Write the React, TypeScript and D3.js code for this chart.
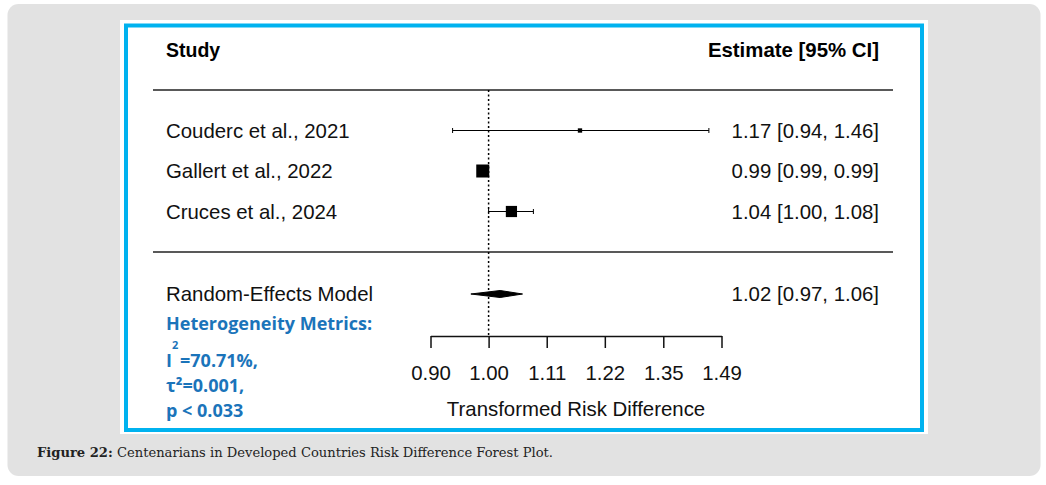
import { useEffect, useRef } from 'react';
import * as d3 from 'd3';

// study rows (top to bottom)
const studies = ['Couderc et al., 2021', 'Gallert et al., 2022', 'Cruces et al., 2024'];
const estimates = [1.17, 0.99, 1.04];
const ciLower = [0.94, 0.99, 1.0];
const ciUpper = [1.46, 0.99, 1.08];
const weights = [6, 54, 40]; // drives box size

// pooled model: estimate, lower, upper
const pooledLabel = 'Random-Effects Model';
const pooledStats = [1.02, 0.97, 1.06];

// axis (log scale, labels are rounded exp values)
const tickValues = [0.905, 1.0, 1.105, 1.221, 1.35, 1.492];
const tickLabels = ['0.90', '1.00', '1.11', '1.22', '1.35', '1.49'];

const hetLines = ['Heterogeneity Metrics:', '=70.71%,', 'τ²=0.001,', 'p < 0.033'];

const W = 1046;
const H = 485;
const SANS = '"Liberation Sans", Arial, sans-serif';
const BLUE = '#1b74ba';
const FS = 20.4;

function fmt(v: number) {
  return v.toFixed(2);
}

export default function App() {
  const svgRef = useRef<SVGSVGElement>(null);

  useEffect(() => {
    if (!svgRef.current) return;
    const svg = d3.select(svgRef.current);
    svg.selectAll('*').remove();

    // background panel
    svg.append('rect').attr('width', W).attr('height', H).attr('fill', '#fff');
    svg.append('rect')
      .attr('x', 7.5).attr('y', 4).attr('width', 1033).attr('height', 472)
      .attr('rx', 11).attr('fill', '#e2e2e2');
    svg.append('rect')
      .attr('x', 120).attr('y', 20).attr('width', 808).attr('height', 414)
      .attr('fill', '#fff');
    svg.append('rect')
      .attr('x', 126).attr('y', 25.5).attr('width', 796).attr('height', 404.5)
      .attr('fill', 'none').attr('stroke', '#00b2ef').attr('stroke-width', 4);

    const x = d3.scaleLog()
      .domain([tickValues[0], tickValues[tickValues.length - 1]])
      .range([430.5, 721.5]);
    // row index: k..1 for studies, 0 = separator, -1 = pooled
    const k = studies.length;
    const y = d3.scaleLinear().domain([1, k]).range([211.5, 130.5]);
    const size = d3.scaleSqrt().domain([0, d3.max(weights) as number]).range([0, 13]);
    const axisY = 336;
    const leftX = 166;
    const rightX = 879;

    const g = svg.append('g');

    // headers
    g.append('text')
      .attr('x', leftX).attr('y', y(k + 2) + 7)
      .attr('font-family', SANS).attr('font-weight', 'bold').attr('font-size', 19.5)
      .text('Study');
    g.append('text')
      .attr('x', rightX).attr('y', y(k + 2) + 7)
      .attr('text-anchor', 'end')
      .attr('font-family', SANS).attr('font-weight', 'bold').attr('font-size', FS)
      .text('Estimate [95% CI]');

    // separator lines
    [k + 1, 0].forEach((r) => {
      g.append('line')
        .attr('x1', 153).attr('x2', 893)
        .attr('y1', y(r)).attr('y2', y(r))
        .attr('stroke', '#222').attr('stroke-width', 1.5);
    });

    // reference line at 1
    g.append('line')
      .attr('x1', x(1)).attr('x2', x(1))
      .attr('y1', y(k + 1)).attr('y2', axisY)
      .attr('stroke', '#000').attr('stroke-width', 1.5)
      .attr('stroke-dasharray', '2,2.5');

    // study rows
    studies.forEach((name, i) => {
      const yy = y(k - i);
      g.append('text')
        .attr('x', leftX).attr('y', yy + 7)
        .attr('font-family', SANS).attr('font-size', FS).attr('fill', '#111')
        .text(name);
      g.append('text')
        .attr('x', rightX).attr('y', yy + 7)
        .attr('text-anchor', 'end')
        .attr('font-family', SANS).attr('font-size', FS).attr('fill', '#111')
        .text(`${fmt(estimates[i])} [${fmt(ciLower[i])}, ${fmt(ciUpper[i])}]`);

      if (ciUpper[i] > ciLower[i]) {
        g.append('line')
          .attr('x1', x(ciLower[i])).attr('x2', x(ciUpper[i]))
          .attr('y1', yy).attr('y2', yy)
          .attr('stroke', '#000').attr('stroke-width', 1);
        [ciLower[i], ciUpper[i]].forEach((v) => {
          g.append('line')
            .attr('x1', x(v)).attr('x2', x(v))
            .attr('y1', yy - 2.5).attr('y2', yy + 2.5)
            .attr('stroke', '#000').attr('stroke-width', 1);
        });
      }
      const s = size(weights[i]);
      g.append('rect')
        .attr('x', x(estimates[i]) - s / 2)
        .attr('y', yy - s / 2)
        .attr('width', s).attr('height', s)
        .attr('fill', '#000');
    });

    // pooled diamond
    const py = y(-1) + 1.5;
    g.append('text')
      .attr('x', leftX).attr('y', py + 7)
      .attr('font-family', SANS).attr('font-size', FS).attr('fill', '#111')
      .text(pooledLabel);
    g.append('text')
      .attr('x', rightX).attr('y', py + 7)
      .attr('text-anchor', 'end')
      .attr('font-family', SANS).attr('font-size', FS).attr('fill', '#111')
      .text(`${fmt(pooledStats[0])} [${fmt(pooledStats[1])}, ${fmt(pooledStats[2])}]`);
    const dh = 3.5;
    g.append('polygon')
      .attr('points', [
        [x(pooledStats[1]), py],
        [x(pooledStats[0]), py - dh],
        [x(pooledStats[2]), py],
        [x(pooledStats[0]), py + dh],
      ].map((p) => p.join(',')).join(' '))
      .attr('fill', '#000').attr('stroke', '#000').attr('stroke-width', 1);

    // axis
    const axis = g.append('g')
      .attr('transform', `translate(0,${axisY})`)
      .call(
        d3.axisBottom(x)
          .tickValues(tickValues)
          .tickFormat((_, i) => tickLabels[i])
          .tickSize(12)
          .tickSizeOuter(0)
          .tickPadding(18)
      );
    axis.select('.domain').attr('stroke', '#111').attr('stroke-width', 1.5);
    axis.selectAll('.tick line').attr('stroke', '#111').attr('stroke-width', 1.5);
    axis.selectAll('.tick text')
      .attr('font-family', SANS).attr('font-size', FS).attr('fill', '#111');

    g.append('text')
      .attr('x', (x.range()[0] + x.range()[1]) / 2).attr('y', 416)
      .attr('text-anchor', 'middle')
      .attr('font-family', SANS).attr('font-size', FS).attr('fill', '#111')
      .text('Transformed Risk Difference');

    // heterogeneity block
    const het = g.append('g')
      .attr('font-family', '"Open Sans", Lato, sans-serif')
      .attr('font-weight', 'bold').attr('font-size', 18).attr('fill', BLUE);
    het.append('text').attr('x', leftX).attr('y', 330).text(hetLines[0]);
    het.append('text').attr('x', leftX).attr('y', 367).text('I');
    het.append('text').attr('x', leftX + 6).attr('y', 349).attr('font-size', 11).text('2');
    het.append('text').attr('x', leftX + 14).attr('y', 367).text(hetLines[1]);
    het.append('text').attr('x', leftX).attr('y', 392).text(hetLines[2]);
    het.append('text').attr('x', leftX).attr('y', 417).text(hetLines[3]);

    // caption
    const cap = svg.append('text')
      .attr('x', 37).attr('y', 457)
      .attr('font-family', '"DejaVu Serif", serif').attr('font-size', 13.1).attr('fill', '#222');
    cap.append('tspan').attr('font-weight', 'bold').text('Figure 22:');
    cap.append('tspan').text(' Centenarians in Developed Countries Risk Difference Forest Plot.');
  }, []);

  return (
    <svg
      ref={svgRef}
      width={W}
      height={H}
      style={{ position: 'absolute', left: 0, top: 0 }}
    />
  );
}
